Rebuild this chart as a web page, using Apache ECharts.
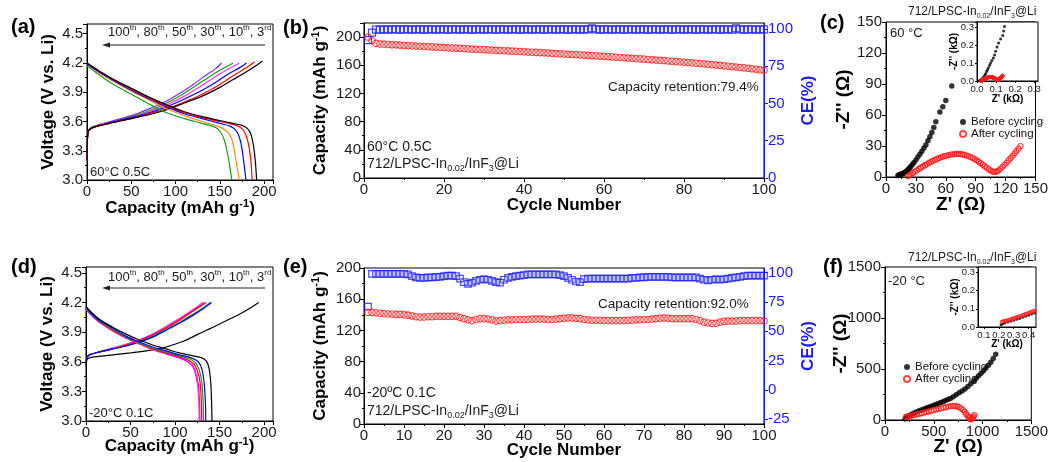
<!DOCTYPE html>
<html>
<head>
<meta charset="utf-8">
<title>712/LPSC-In0.02/InF3@Li cycling and EIS</title>
<script src="https://cdn.jsdelivr.net/npm/echarts@6.0.0/dist/echarts.min.js"></script>
<style>
  html, body { margin: 0; padding: 0; background: #fff; }
  #chart { width: 1051px; height: 462px; }
</style>
</head>
<body>
<div id="chart"></div>
<script>
// ---------- (a) 60 °C 0.5C voltage profiles, [capacity, voltage]
const aCharge3   = [[0,3.2],[0.5,3.42],[1.5,3.5],[5,3.53],[15,3.56],[30,3.59],[50,3.63],[70,3.67],[90,3.72],[110,3.79],[130,3.86],[150,3.95],[165,4.03],[180,4.11],[192,4.18],[198,4.22]];
const aCharge10  = [[0,3.2],[0.5,3.42],[1.5,3.5],[5,3.53],[15,3.56],[30,3.59],[50,3.63],[70,3.68],[90,3.73],[110,3.8],[130,3.88],[150,3.98],[165,4.07],[178,4.14],[189,4.21]];
const aCharge30  = [[0,3.2],[0.5,3.42],[1.5,3.5],[5,3.53],[15,3.56],[30,3.6],[50,3.64],[70,3.69],[90,3.75],[110,3.83],[130,3.92],[145,4.0],[160,4.09],[172,4.15],[180,4.2]];
const aCharge50  = [[0,3.2],[0.5,3.42],[1.5,3.5],[5,3.53],[15,3.57],[30,3.6],[50,3.64],[70,3.7],[90,3.77],[110,3.86],[128,3.96],[145,4.06],[160,4.14],[172,4.2]];
const aCharge80  = [[0,3.2],[0.5,3.42],[1.5,3.5],[5,3.54],[15,3.57],[30,3.6],[50,3.65],[70,3.71],[90,3.79],[108,3.88],[125,3.98],[140,4.07],[153,4.14],[165,4.2]];
const aCharge100 = [[0,3.2],[0.5,3.42],[1.5,3.5],[5,3.54],[15,3.57],[30,3.61],[50,3.66],[70,3.73],[90,3.81],[105,3.89],[120,3.98],[135,4.08],[145,4.14],[152,4.2]];
const aDis3  = [[0,4.2],[5,4.17],[15,4.11],[30,4.03],[50,3.94],[70,3.85],[90,3.77],[110,3.7],[130,3.65],[150,3.61],[165,3.58],[175,3.56],[181,3.53],[185,3.47],[188,3.35],[190,3.2],[191.5,3.0]];
const aDis10 = [[0,4.2],[5,4.17],[15,4.11],[30,4.03],[50,3.93],[70,3.84],[90,3.76],[110,3.69],[130,3.64],[150,3.6],[165,3.57],[173,3.54],[178,3.49],[182,3.38],[185,3.2],[186.5,3.0]];
const aDis30 = [[0,4.19],[5,4.16],[15,4.1],[30,4.02],[50,3.92],[70,3.83],[90,3.75],[110,3.68],[130,3.63],[150,3.58],[162,3.55],[168,3.51],[172,3.44],[175,3.32],[177.5,3.15],[179.5,3.0]];
const aDis50 = [[0,4.19],[5,4.16],[15,4.09],[30,4.01],[50,3.91],[70,3.82],[90,3.73],[110,3.66],[130,3.6],[148,3.55],[158,3.5],[163,3.43],[166,3.32],[169,3.15],[172,3.0]];
const aDis80 = [[0,4.17],[5,4.14],[15,4.07],[30,3.98],[50,3.88],[70,3.78],[90,3.69],[110,3.63],[130,3.58],[145,3.54],[151,3.49],[155,3.41],[158,3.3],[161,3.15],[163.5,3.0]];

// ---------- (d) -20 °C 0.1C voltage profiles
const dCharge3   = [[0,3.55],[1,3.62],[4,3.64],[20,3.66],[50,3.69],[75,3.72],[90,3.75],[110,3.81],[126,3.88],[145,3.96],[163,4.04],[180,4.12],[194,4.2]];
const dCharge10  = [[0,3.58],[1,3.64],[4,3.67],[15,3.7],[30,3.73],[45,3.76],[60,3.8],[75,3.85],[90,3.92],[105,3.99],[120,4.07],[132,4.14],[141,4.2]];
const dCharge30  = [[0,3.58],[1,3.64],[4,3.67],[15,3.7],[30,3.73],[45,3.76],[60,3.8],[75,3.86],[90,3.93],[105,4.0],[120,4.08],[132,4.15],[140,4.2]];
const dCharge50  = [[0,3.58],[1,3.64],[4,3.67],[15,3.7],[30,3.73],[45,3.77],[60,3.81],[75,3.87],[90,3.94],[105,4.02],[118,4.1],[128,4.16],[135,4.2]];
const dCharge80  = [[0,3.58],[1,3.64],[4,3.67],[15,3.7],[30,3.73],[45,3.77],[60,3.82],[75,3.88],[90,3.95],[105,4.03],[118,4.11],[127,4.16],[133,4.2]];
const dCharge100 = [[0,3.58],[1,3.64],[4,3.67],[15,3.7],[30,3.74],[45,3.78],[60,3.82],[75,3.88],[90,3.96],[105,4.04],[117,4.11],[125,4.16],[131,4.2]];
const dDis3   = [[0,4.16],[5,4.11],[15,4.03],[30,3.95],[45,3.88],[60,3.82],[75,3.77],[90,3.73],[105,3.69],[120,3.66],[130,3.64],[135,3.61],[138,3.54],[140,3.4],[141,3.2],[141.5,3.0]];
const dDis10  = [[0,4.15],[5,4.1],[15,4.02],[30,3.94],[45,3.86],[60,3.8],[75,3.75],[90,3.71],[105,3.67],[118,3.64],[126,3.6],[130,3.53],[132.5,3.4],[134,3.2],[134.5,3.0]];
const dDis30  = [[0,4.14],[5,4.09],[15,4.01],[30,3.93],[45,3.85],[60,3.79],[75,3.74],[90,3.7],[105,3.66],[116,3.63],[123,3.59],[127,3.52],[130,3.4],[131.5,3.2],[132,3.0]];
const dDis50  = [[0,4.14],[5,4.09],[15,4.01],[30,3.92],[45,3.85],[60,3.79],[75,3.73],[90,3.69],[105,3.65],[114,3.62],[121,3.58],[125,3.51],[128,3.4],[129.5,3.2],[130,3.0]];
const dDis80  = [[0,4.13],[5,4.08],[15,4.0],[30,3.92],[45,3.84],[60,3.78],[75,3.73],[90,3.68],[105,3.64],[113,3.61],[119,3.57],[123,3.5],[126,3.38],[127.5,3.2],[128,3.0]];
const dDis100 = [[0,4.13],[5,4.08],[15,4.0],[30,3.91],[45,3.84],[60,3.78],[75,3.72],[90,3.68],[105,3.64],[112,3.61],[118,3.57],[122,3.5],[125,3.38],[126.5,3.2],[127,3.0]];

// ---------- (b) cycling at 60 °C: discharge capacity (mAh/g) and CE (%)
const capB = [
  200, 195, 191, 190, 190, 189.5, 189, 189, 188.5, 188,
  187.8, 187.5, 187.2, 187, 186.6, 186.3, 186, 185.7, 185.4, 185.1,
  184.8, 184.5, 184.2, 183.9, 183.6, 183.3, 183, 182.7, 182.4, 182.1,
  181.8, 181.5, 181.2, 180.9, 180.6, 180.3, 180, 179.7, 179.4, 179.1,
  178.8, 178.5, 178.2, 177.9, 177.6, 177.3, 177, 176.6, 176.3, 176,
  175.6, 175.3, 175, 174.6, 174.3, 174, 173.6, 173.3, 172.9, 172.5,
  172.2, 171.8, 171.4, 171, 170.6, 170.2, 169.8, 169.4, 169, 168.6,
  168.2, 167.8, 167.4, 167, 166.6, 166.1, 165.7, 165.2, 164.8, 164.3,
  163.9, 163.4, 162.9, 162.4, 161.9, 161.4, 160.9, 160.3, 159.8, 159.2,
  158.6, 158, 157.4, 156.8, 156.2, 155.6, 155, 154.3, 153.6, 153
];
const ceB = [
  92.5, 97.5, 99.6, 99.6, 99.7, 99.6, 99.7, 99.7, 99.6, 99.7,
  99.7, 99.6, 99.7, 99.7, 99.6, 99.7, 99.7, 99.6, 99.7, 99.7,
  99.6, 99.7, 99.7, 99.6, 99.7, 99.7, 99.6, 99.7, 99.7, 99.6,
  99.7, 99.7, 99.6, 99.7, 99.7, 99.6, 99.7, 99.7, 99.6, 99.7,
  99.7, 99.6, 99.7, 99.7, 99.6, 99.7, 99.7, 99.6, 99.7, 99.7,
  99.6, 99.7, 99.7, 99.6, 99.7, 99.7, 100.4, 99.7, 99.6, 99.7,
  99.7, 99.6, 99.7, 99.7, 99.6, 99.7, 99.7, 99.6, 99.7, 99.7,
  99.6, 99.7, 99.7, 99.6, 99.7, 99.7, 99.6, 99.7, 99.7, 99.6,
  99.7, 99.7, 99.6, 99.7, 99.7, 99.6, 99.7, 99.7, 99.6, 99.7,
  99.7, 99.6, 100.4, 99.7, 99.6, 99.7, 99.7, 99.6, 99.7, 99.7
];

// ---------- (e) cycling at -20 °C
const capE = [
  143, 143, 142.5, 142, 141.5, 141, 141, 140.5, 140.5, 140,
  139.5, 138.5, 137.5, 137, 137, 137.5, 137.5, 138, 138, 138,
  138, 138, 138, 136.5, 135, 133.5, 132.5, 134, 135, 135,
  134.5, 133.5, 132, 132.5, 133, 133.5, 133.5, 134, 134, 134,
  134, 134.5, 134.5, 134.5, 134.5, 134, 134, 134.5, 135, 135.5,
  136, 136, 135.5, 135, 134, 133.5, 133, 133, 133, 132.5,
  132.5, 132.5, 132.5, 132.5, 132.5, 133, 133, 133.5, 133.5, 134,
  134, 134.5, 135, 135.5, 136, 135.5, 135, 135, 135, 135,
  135, 135, 134, 132.5, 130.5, 129.5, 129, 129, 130.5, 131.5,
  132, 132, 132, 132.5, 132.5, 132.5, 132.5, 132.5, 132.5, 132
];
const ceE = [
  71, 99, 99, 99, 99, 99, 99, 99, 99, 99,
  98.5, 97, 96, 95.5, 95.5, 96, 96, 96.5, 96.5, 97,
  97.5, 97.5, 97, 95, 92, 90.5, 91.5, 93, 94, 94.5,
  94, 93, 92, 91.5, 94, 95.5, 96.5, 97, 97.5, 98,
  98.5, 98.5, 98.5, 98.5, 98.5, 98.5, 98.5, 98.5, 98, 97,
  95.5, 94, 92.5, 92, 94.5, 95, 95, 95, 95, 95,
  95, 95, 95, 95, 95, 95, 95.5, 95.5, 96, 96,
  96.5, 96.5, 96.5, 96.5, 96.5, 96.5, 96, 96, 96, 96,
  96, 96, 96, 95, 94, 93.5, 94, 94.5, 94, 94.5,
  95, 95.5, 96, 96.5, 97, 97.5, 97.5, 97.5, 97.5, 97.5
];

// ---------- (c) EIS at 60 °C, [Z', -Z''] in ohm
const eisBeforeC = [[12,1.5],[13,2],[14,2.4],[15,2.7],[16,3],[17,3.3],[18,3.8],[19,4.5],[20,5.2],[21,6],[22,6.9],[23,7.9],[24,9],[25,10.3],[26.5,12],[28,14],[30,16.5],[32,19.3],[34,22],[36,25],[38,28],[40,31],[42,35],[44,39],[46,43],[48,48],[50,53.5],[54,63],[57,68],[60,74],[66,88]];
const eisAfterC = [[22,0.8],[23.5,1.6],[25,2.6],[27,3.9],[29,5.2],[31,6.5],[33,7.8],[35,9],[37,10.2],[39,11.4],[41,12.5],[43,13.6],[45,14.6],[47,15.6],[49,16.5],[51,17.4],[53,18.2],[55,19],[57,19.7],[59,20.3],[61,20.8],[63,21.3],[65,21.7],[67,22],[69,22.2],[71,22.3],[73,22.3],[75,22.1],[77,21.8],[79,21.4],[81,20.8],[83,20.1],[85,19.3],[87,18.4],[89,17.3],[91,16.1],[93,14.8],[95,13.4],[97,12],[99,10.5],[101,9],[103,7.6],[105,6.3],[107,5.3],[108.5,4.9],[110,5],[111.5,5.5],[113,6.5],[115,8],[117,9.8],[119,11.8],[121,13.8],[123,16],[125,18.2],[127,20.5],[129,22.8],[131,25.2],[133,27.6],[135,30]];
// inset (c), kilo-ohm
const insetBeforeC = [[0.012,0.001],[0.016,0.003],[0.02,0.005],[0.025,0.01],[0.03,0.016],[0.035,0.023],[0.04,0.031],[0.045,0.041],[0.05,0.053],[0.055,0.063],[0.06,0.074],[0.066,0.088],[0.071,0.1],[0.078,0.115],[0.086,0.128],[0.092,0.145],[0.098,0.166],[0.105,0.19],[0.113,0.213],[0.124,0.235],[0.135,0.255],[0.14,0.28],[0.144,0.305]];

// ---------- (f) EIS at -20 °C, ohm
const eisBeforeF = [[205,10],[212,17],[220,25],[233,35],[250,45],[270,55],[295,66],[320,78],[345,88],[370,97],[395,106],[420,115],[445,124],[470,133],[495,143],[520,153],[545,162],[570,171],[595,180],[620,190],[645,200],[670,211],[700,228],[730,247],[760,266],[790,284],[820,305],[850,328],[880,355],[910,383],[935,409],[960,433],[985,458],[1010,483],[1035,509],[1060,537],[1085,566],[1110,604],[1135,645]];
const eisAfterF = [[215,30],[230,33],[245,36],[260,40],[280,44],[300,49],[325,55],[350,61],[375,67],[400,73],[425,79],[450,85],[475,91],[500,97],[525,103],[550,109],[575,115],[600,121],[625,127],[650,132],[675,136],[700,138],[720,137],[740,133],[760,126],[780,114],[800,98],[817,81],[832,60],[845,45],[855,32],[865,20],[875,10],[883,6],[892,14],[900,24],[908,35],[917,49]];
// inset (f), kilo-ohm
const insetBeforeF = [[0.215,0.012],[0.225,0.018],[0.24,0.022],[0.26,0.027],[0.28,0.032],[0.3,0.037],[0.32,0.042],[0.34,0.047],[0.36,0.053],[0.38,0.059],[0.4,0.065],[0.42,0.071],[0.44,0.077]];
const insetAfterF = [[0.22,0.028],[0.23,0.031],[0.24,0.033],[0.25,0.035],[0.26,0.037],[0.27,0.04],[0.28,0.042],[0.29,0.045],[0.3,0.047],[0.31,0.05],[0.32,0.053],[0.33,0.056],[0.34,0.059],[0.35,0.062],[0.36,0.065],[0.37,0.068],[0.38,0.071],[0.39,0.074],[0.4,0.077],[0.41,0.08],[0.42,0.083],[0.43,0.086],[0.44,0.089]];

const cycles = [];
for (let i = 1; i <= 100; i++) cycles.push(i);

const ceTicksB = [0, 25, 50, 75, 100];
const ceTicksE = [-25, 0, 25, 50, 75, 100];
const insetTicksC = [0, 0.1, 0.2, 0.3];
const insetTicksF = [0.1, 0.2, 0.3, 0.4];

// ---------------------------------------------------------------
const FONT = 'Liberation Sans';
const BLUE = '#1a1aff';
const RED = '#ff1a1a';

const pairs = (xs, ys) => xs.map((x, i) => [x, ys[i]]);
const toK = arr => arr.map(p => [p[0] / 1000, p[1] / 1000]);

// label only on the multiples of step
const stepFmt = (step, digits) => v => {
  const k = v / step;
  return Math.abs(k - Math.round(k)) < 1e-6 ? v.toFixed(digits) : '';
};

function axis(o) {
  const base = {
    type: 'value',
    axisLine: { show: true, onZero: false, lineStyle: { color: '#000', width: 1 } },
    axisTick: { show: true, inside: false, length: 4, lineStyle: { color: '#000', width: 1 } },
    minorTick: { show: true, splitNumber: 2, length: 2, lineStyle: { color: '#000', width: 1 } },
    splitLine: { show: false },
    axisLabel: { fontSize: 15, fontFamily: FONT, color: '#1a1a1a', margin: 4, showMinLabel: true, showMaxLabel: true, hideOverlap: false },
    nameLocation: 'middle',
    nameMoveOverlap: false,
    nameTextStyle: { fontSize: 17, fontWeight: 'bold', fontFamily: FONT, color: '#000' }
  };
  const out = Object.assign({}, base, o);
  ['axisLine', 'axisTick', 'minorTick', 'axisLabel', 'nameTextStyle'].forEach(k => {
    if (o[k]) out[k] = Object.assign({}, base[k], o[k]);
  });
  return out;
}

function inset(o) {
  const d = {
    axisTick: { length: 2 },
    minorTick: { show: false },
    axisLabel: { fontSize: 9.5, margin: 3 },
    nameTextStyle: { fontSize: 10, fontWeight: 'bold' }
  };
  ['axisTick', 'axisLabel', 'nameTextStyle'].forEach(k => {
    if (o[k]) d[k] = Object.assign({}, d[k], o[k]);
  });
  return axis(Object.assign({}, o, d));
}

const capName = {
  name: '{b|Capacity (mAh g}{s|-1}{b|)}',
  nameTextStyle: {
    rich: {
      b: { fontSize: 17, fontWeight: 'bold', fontFamily: FONT, color: '#000', lineHeight: 20 },
      s: { fontSize: 11, fontWeight: 'bold', fontFamily: FONT, color: '#000', lineHeight: 11, verticalAlign: 'top' }
    }
  }
};

const frame = { show: true, borderColor: '#000', borderWidth: 1, backgroundColor: 'transparent' };
const grids = [
  Object.assign({ left: 87, top: 24, width: 186, height: 156 }, frame),   // a
  Object.assign({ left: 364, top: 23, width: 400, height: 155 }, frame),  // b
  Object.assign({ left: 886, top: 22, width: 152, height: 155 }, frame),  // c
  Object.assign({ left: 977, top: 22, width: 61, height: 59 }, frame, { backgroundColor: '#fff' }),   // c inset
  Object.assign({ left: 86, top: 267, width: 187, height: 154 }, frame),  // d
  Object.assign({ left: 364, top: 268, width: 400, height: 156 }, frame), // e
  Object.assign({ left: 885, top: 267, width: 151, height: 153 }, frame), // f
  Object.assign({ left: 978, top: 267, width: 58, height: 60 }, frame, { backgroundColor: '#fff' })   // f inset
];

const xAxes = [
  axis(Object.assign({ gridIndex: 0, min: 0, max: 210, interval: 50, axisLabel: { formatter: stepFmt(50, 0) }, nameGap: 18 }, capName)),
  axis({ gridIndex: 1, min: 0, max: 100, interval: 20, name: 'Cycle Number', nameGap: 19 }),
  axis({ gridIndex: 2, min: 0, max: 150, interval: 30, name: "Z' (Ω)", nameGap: 18, nameTextStyle: { fontSize: 19 } }),
  inset({ gridIndex: 3, min: 0, max: 0.32, axisLabel: { customValues: insetTicksC, formatter: v => v.toFixed(1) }, axisTick: { customValues: insetTicksC }, name: "Z' (kΩ)", nameGap: 13 }),
  axis(Object.assign({ gridIndex: 4, min: 0, max: 210, interval: 50, axisLabel: { formatter: stepFmt(50, 0) }, nameGap: 15 }, capName)),
  axis({ gridIndex: 5, min: 0, max: 100, interval: 10, name: 'Cycle Number', nameGap: 18 }),
  axis({ gridIndex: 6, min: 0, max: 1500, interval: 500, axisLabel: { formatter: v => String(v) }, name: "Z' (Ω)", nameGap: 17, nameTextStyle: { fontSize: 19 } }),
  inset({ gridIndex: 7, min: 0.06, max: 0.45, axisLabel: { customValues: insetTicksF, formatter: v => v.toFixed(1) }, axisTick: { customValues: insetTicksF }, name: "Z' (kΩ)", nameGap: 12 })
];

const ceAxis = (grid, min, max, ticks) => axis({
  gridIndex: grid, position: 'right', min: min, max: max,
  axisLine: { lineStyle: { color: BLUE } },
  axisTick: { customValues: ticks, lineStyle: { color: BLUE } },
  minorTick: { show: false },
  axisLabel: { customValues: ticks, color: BLUE, formatter: v => String(v) },
  name: 'CE(%)', nameGap: 36, nameTextStyle: { color: BLUE }
});

const yAxes = [
  axis({ gridIndex: 0, min: 3.0, max: 4.6, interval: 0.3, axisLabel: { formatter: stepFmt(0.3, 1) }, name: 'Voltage (V vs. Li)', nameGap: 30 }),
  axis(Object.assign({ gridIndex: 1, min: 0, max: 220, interval: 40, axisLabel: { formatter: stepFmt(40, 0), margin: 3 }, nameGap: 34 }, capName)),
  ceAxis(1, 0, 104, ceTicksB),
  axis({ gridIndex: 2, min: 0, max: 150, interval: 30, name: "-Z'' (Ω)", nameGap: 33, nameTextStyle: { fontSize: 19 } }),
  inset({ gridIndex: 3, min: 0, max: 0.33, interval: 0.1, axisLabel: { formatter: stepFmt(0.1, 1) }, name: "-Z'' (kΩ)", nameGap: 18 }),
  axis({ gridIndex: 4, min: 3.0, max: 4.56, interval: 0.3, axisLabel: { formatter: stepFmt(0.3, 1) }, name: 'Voltage (V vs. Li)', nameGap: 30 }),
  axis(Object.assign({ gridIndex: 5, min: 0, max: 200, interval: 40, axisLabel: { margin: 3 }, nameGap: 34 }, capName)),
  ceAxis(5, -29, 104, ceTicksE),
  axis({ gridIndex: 6, min: 0, max: 1500, interval: 500, axisLabel: { formatter: v => String(v) }, name: "-Z'' (Ω)", nameGap: 35, nameTextStyle: { fontSize: 19 } }),
  inset({ gridIndex: 7, min: 0, max: 0.33, interval: 0.1, axisLabel: { formatter: stepFmt(0.1, 1) }, name: "-Z'' (kΩ)", nameGap: 18 })
];

const curve = (data, color, xi, yi) => ({
  type: 'line', data: data, xAxisIndex: xi, yAxisIndex: yi,
  showSymbol: false, smooth: 0.3, lineStyle: { color: color, width: 1.2 }, silent: true
});

const dot = (name, data, xi, yi, size, filled, color, sym) => ({
  type: 'scatter', name: name, data: data, xAxisIndex: xi, yAxisIndex: yi,
  symbol: sym || 'circle', symbolSize: size, silent: true,
  itemStyle: filled ? { color: color } : { color: 'rgba(255,255,255,0)', borderColor: color, borderWidth: 1.2 }
});

const series = [
  curve(aCharge100, '#8a2be2', 0, 0), curve(aCharge80, '#1a9a1a', 0, 0), curve(aCharge50, '#ff33ff', 0, 0),
  curve(aCharge30, '#0000ff', 0, 0), curve(aCharge10, '#ff0000', 0, 0), curve(aCharge3, '#000000', 0, 0),
  curve(aDis80, '#1a9a1a', 0, 0), curve(aDis50, '#ff8c1a', 0, 0), curve(aDis30, '#0000ff', 0, 0),
  curve(aDis10, '#ff0000', 0, 0), curve(aDis3, '#000000', 0, 0),

  dot('CE 60', pairs(cycles, ceB), 1, 2, 7, false, BLUE, 'rect'),
  dot('Cap 60', pairs(cycles, capB), 1, 1, 6.5, false, RED),

  dot('Before cycling', eisBeforeC, 2, 3, 5.5, true, '#000'),
  dot('After cycling', eisAfterC, 2, 3, 5, false, RED),
  dot('Before cycling', insetBeforeC, 3, 4, 3, true, '#000'),
  dot('After cycling', toK(eisAfterC), 3, 4, 3, false, RED),

  curve(dCharge100, '#ff4da6', 4, 5), curve(dCharge80, '#ff00ff', 4, 5), curve(dCharge50, '#ff0000', 4, 5),
  curve(dCharge30, '#1a9a1a', 4, 5), curve(dCharge10, '#0000ff', 4, 5), curve(dCharge3, '#000000', 4, 5),
  curve(dDis100, '#ff4da6', 4, 5), curve(dDis80, '#ff00ff', 4, 5), curve(dDis50, '#ff0000', 4, 5),
  curve(dDis30, '#1a9a1a', 4, 5), curve(dDis10, '#0000ff', 4, 5), curve(dDis3, '#000000', 4, 5),

  dot('CE -20', pairs(cycles, ceE), 5, 7, 6.5, false, BLUE, 'rect'),
  dot('Cap -20', pairs(cycles, capE), 5, 6, 6.5, false, RED),

  dot('Before cycling', eisBeforeF, 6, 8, 5.5, true, '#000'),
  dot('After cycling', eisAfterF, 6, 8, 5, false, RED),
  dot('Before cycling', insetBeforeF, 7, 9, 3, true, '#000'),
  dot('After cycling', insetAfterF, 7, 9, 3, false, RED)
];

const legendBase = {
  data: ['Before cycling', 'After cycling'], orient: 'vertical', icon: 'circle',
  itemWidth: 6, itemHeight: 6, itemGap: 0, selectedMode: false,
  textStyle: { fontSize: 11.5, fontFamily: FONT, color: '#111', lineHeight: 11 }
};

// ---- text annotations
const T = (x, y, text, size, extra) => ({
  type: 'text', x: x, y: y, silent: true,
  style: Object.assign({ text: text, fontSize: size, fontFamily: FONT, fill: '#1a1a1a', verticalAlign: 'middle', align: 'left' }, extra || {})
});
const sampleRich = (size) => ({
  rich: {
    n: { fontSize: size, fontFamily: FONT, color: '#1a1a1a', lineHeight: size + 4 },
    d: { fontSize: Math.round(size * 0.62), fontFamily: FONT, color: '#1a1a1a', lineHeight: 8, verticalAlign: 'bottom' }
  }
});
const sampleText = '{n|712/LPSC-In}{d|0.02}{n|/InF}{d|3}{n|@Li}';
const cycleText = '{n|100}{s|th}{n|, 80}{s|th}{n|, 50}{s|th}{n|, 30}{s|th}{n|, 10}{s|th}{n|, 3}{s|rd}';
const cycleRich = {
  rich: {
    n: { fontSize: 13, fontFamily: FONT, color: '#1a1a1a', lineHeight: 16 },
    s: { fontSize: 8, fontFamily: FONT, color: '#1a1a1a', lineHeight: 8, verticalAlign: 'top' }
  }
};
const arrow = (y) => [
  { type: 'line', silent: true, shape: { x1: 265, y1: y, x2: 108, y2: y }, style: { stroke: '#222', lineWidth: 1 } },
  { type: 'polygon', silent: true, shape: { points: [[102, y], [110, y - 2.5], [110, y + 2.5]] }, style: { fill: '#222' } }
];
const bold = { fontWeight: 'bold', fill: '#000' };

const graphic = [
  T(11, 27, '(a)', 20, bold), T(283, 28, '(b)', 20, bold), T(820, 23, '(c)', 20, bold),
  T(11, 267, '(d)', 20, bold), T(283, 267, '(e)', 20, bold), T(823, 267, '(f)', 20, bold),

  T(108, 32, cycleText, 13, cycleRich), ...arrow(45),
  T(90, 172, '60°C 0.5C', 13),
  T(108, 277, cycleText, 13, cycleRich), ...arrow(288),
  T(89, 413, '-20°C 0.1C', 13),

  T(367, 147, '60°C 0.5C', 14),
  T(367, 164, sampleText, 14, sampleRich(14)),
  T(608, 87, 'Capacity retention:79.4%', 13.5),
  T(367, 393, '-20ºC 0.1C', 14),
  T(367, 411, sampleText, 14, sampleRich(14)),
  T(598, 304, 'Capacity retention:92.0%', 13.5),

  T(890, 33, '60 °C', 13),
  T(908, 12, sampleText, 12, sampleRich(12)),
  T(888, 281, '-20 °C', 13),
  T(908, 258, sampleText, 12, sampleRich(12))
];

const chart = echarts.init(document.getElementById('chart'));
chart.setOption({
  animation: false,
  backgroundColor: '#fff',
  textStyle: { fontFamily: FONT },
  grid: grids,
  xAxis: xAxes,
  yAxis: yAxes,
  legend: [
    Object.assign({ left: 954, top: 111 }, legendBase),
    Object.assign({ left: 898, top: 356 }, legendBase)
  ],
  series: series,
  graphic: graphic
});
</script>
</body>
</html>
